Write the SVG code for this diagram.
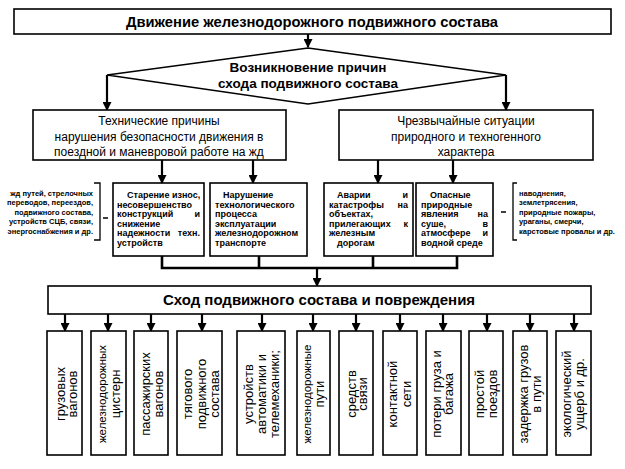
<svg xmlns="http://www.w3.org/2000/svg" width="625" height="469" viewBox="0 0 625 469">
<defs>
<marker id="ah" markerUnits="userSpaceOnUse" markerWidth="9" markerHeight="9" refX="8" refY="4.5" orient="auto"><path d="M0,0 L9,4.5 L0,9 z" fill="#000"/></marker>
<style>
.box{fill:#fff;stroke:#000;stroke-width:1.6}
.t{font-family:"Liberation Sans",Arial,sans-serif;fill:#000}
.b{font-weight:bold}
.c{text-anchor:middle}
.e{text-anchor:end}
.s{font-size:9px;font-weight:bold}
.n{font-size:7.5px;font-weight:bold}
.v{font-size:13px;text-anchor:middle}
.con{fill:none;stroke:#000;stroke-width:2.2}
</style>
</defs>
<rect width="625" height="469" fill="#fff"/>
<g id="connectors">
<path class="con" d="M308,34 V47" marker-end="url(#ah)"/>
<path class="con" d="M107,75 V110" marker-end="url(#ah)"/>
<path class="con" d="M506,75 V110" marker-end="url(#ah)"/>
<path class="con" d="M162,160 V183" marker-end="url(#ah)"/>
<path class="con" d="M253,160 V183" marker-end="url(#ah)"/>
<path class="con" d="M378,160 V183" marker-end="url(#ah)"/>
<path class="con" d="M453,160 V183" marker-end="url(#ah)"/>
<path class="con" style="stroke-width:2.6" d="M162,256 V268 H457 V256 M259,256 V268 M373,256 V268"/>
<path class="con" d="M317,268 V286" marker-end="url(#ah)"/>
<path class="con" d="M65,314 V331" marker-end="url(#ah)"/>
<path class="con" d="M108,314 V331" marker-end="url(#ah)"/>
<path class="con" d="M151,314 V331" marker-end="url(#ah)"/>
<path class="con" d="M202,314 V331" marker-end="url(#ah)"/>
<path class="con" d="M262,314 V331" marker-end="url(#ah)"/>
<path class="con" d="M313,314 V331" marker-end="url(#ah)"/>
<path class="con" d="M356,314 V331" marker-end="url(#ah)"/>
<path class="con" d="M400,314 V331" marker-end="url(#ah)"/>
<path class="con" d="M443,314 V331" marker-end="url(#ah)"/>
<path class="con" d="M487,314 V331" marker-end="url(#ah)"/>
<path class="con" d="M530,314 V331" marker-end="url(#ah)"/>
<path class="con" d="M574,314 V331" marker-end="url(#ah)"/>
</g>
<g id="title">
<rect class="box" x="14" y="9" width="597" height="25"/>
<text class="t b c" x="312" y="27" font-size="14" textLength="372" lengthAdjust="spacingAndGlyphs">Движение железнодорожного подвижного состава</text>
</g>
<g id="decision">
<polygon class="box" points="308,48 506,75 308,104 107,75"/>
<text class="t b c" x="308" y="72" font-size="13" textLength="157" lengthAdjust="spacingAndGlyphs">Возникновение причин</text>
<text class="t b c" x="308" y="88" font-size="13" textLength="180" lengthAdjust="spacingAndGlyphs">схода подвижного состава</text>
</g>
<g id="tech">
<rect class="box" x="33" y="110" width="253" height="50"/>
<text class="t c" font-size="12" x="159" y="125">Технические причины</text>
<text class="t c" font-size="12" x="159" y="141">нарушения безопасности движения в</text>
<text class="t c" font-size="12" x="159" y="156">поездной и маневровой работе на жд</text>
</g>
<g id="emergency">
<rect class="box" x="339" y="110" width="254" height="50"/>
<text class="t c" font-size="12" x="466" y="125">Чрезвычайные ситуации</text>
<text class="t c" font-size="12" x="466" y="141">природного и техногенного</text>
<text class="t c" font-size="12" x="466" y="156">характера</text>
</g>
<g id="tech-list">
<text class="t n e" x="93" y="195.5">жд путей, стрелочных</text>
<text class="t n e" x="93" y="205">переводов, переездов,</text>
<text class="t n e" x="93" y="214.5">подвижного состава,</text>
<text class="t n e" x="93" y="224">устройств СЦБ, связи,</text>
<text class="t n e" x="93" y="233.5">энергоснабжения и др.</text>
<path fill="none" stroke="#000" stroke-width="1.3" d="M94,183 H100 V240 H94 M103,218 H108"/>
</g>
<g id="aging">
<rect class="box" x="113" y="183" width="91" height="73"/>
<text class="t s" x="127" y="198">Старение износ,</text>
<text class="t s" x="117" y="207.5">несовершенство</text>
<text class="t s" x="117" y="217">конструкций</text><text class="t s e" x="200" y="217">и</text>
<text class="t s" x="117" y="226.5">снижение</text>
<text class="t s" x="117" y="236">надежности</text><text class="t s e" x="200" y="236">техн.</text>
<text class="t s" x="117" y="245.5">устройств</text>
</g>
<g id="process">
<rect class="box" x="210" y="183" width="97" height="73"/>
<text class="t s" x="223" y="198">Нарушение</text>
<text class="t s" x="215" y="207.5">технологического</text>
<text class="t s" x="215" y="217">процесса</text>
<text class="t s" x="215" y="226.5">эксплуатации</text>
<text class="t s" x="215" y="236">железнодорожном</text>
<text class="t s" x="215" y="245.5">транспорте</text>
</g>
<g id="accidents">
<rect class="box" x="324" y="183" width="89" height="73"/>
<text class="t s" x="337" y="198">Аварии</text><text class="t s e" x="408" y="198">и</text>
<text class="t s" x="329" y="207.5">катастрофы</text><text class="t s e" x="408" y="207.5">на</text>
<text class="t s" x="329" y="217">объектах,</text>
<text class="t s" x="329" y="226.5">прилегающих</text><text class="t s e" x="408" y="226.5">к</text>
<text class="t s" x="329" y="236">железным</text>
<text class="t s" x="337" y="245.5">дорогам</text>
</g>
<g id="natural">
<rect class="box" x="416" y="183" width="77" height="73"/>
<text class="t s" x="430" y="198">Опасные</text>
<text class="t s" x="421" y="207.5">природные</text>
<text class="t s" x="421" y="217">явления</text><text class="t s e" x="488" y="217">на</text>
<text class="t s" x="421" y="226.5">суше,</text><text class="t s e" x="488" y="226.5">в</text>
<text class="t s" x="421" y="236">атмосфере</text><text class="t s e" x="488" y="236">и</text>
<text class="t s" x="421" y="245.5">водной среде</text>
</g>
<g id="natural-list">
<path fill="none" stroke="#000" stroke-width="1.3" d="M501,212 H506 M517,183 H513 V240 H517"/>
<text class="t n" x="519" y="195.5">наводнения,</text>
<text class="t n" x="519" y="205">землетрясения,</text>
<text class="t n" x="519" y="214.5">природные пожары,</text>
<text class="t n" x="519" y="224">ураганы, смерчи,</text>
<text class="t n" x="519" y="233.5">карстовые провалы и др.</text>
</g>
<g id="derailment">
<rect class="box" x="48" y="286" width="543" height="28"/>
<text class="t b c" x="319" y="305" font-size="15">Сход подвижного состава и повреждения</text>
</g>
<g id="r1"><rect class="box" x="47" y="331" width="35" height="124"/>
<text class="t v" transform="translate(64,394) rotate(-90)"><tspan x="0" y="1">грузовых</tspan><tspan x="0" y="13">вагонов</tspan></text></g>
<g id="r2"><rect class="box" x="91" y="331" width="35" height="124"/>
<text class="t v" font-size="12" transform="translate(108,394) rotate(-90)"><tspan x="0" y="-2" font-size="11.5">железнодорожных</tspan><tspan x="0" y="12">цистерн</tspan></text></g>
<g id="r3"><rect class="box" x="134" y="331" width="34" height="124"/>
<text class="t v" transform="translate(151,394) rotate(-90)"><tspan x="0" y="-1">пассажирских</tspan><tspan x="0" y="12">вагонов</tspan></text></g>
<g id="r4"><rect class="box" x="177" y="331" width="45" height="124"/>
<text class="t v" transform="translate(199,394) rotate(-90)"><tspan x="0" y="-7">тягового</tspan><tspan x="0" y="7">подвижного</tspan><tspan x="0" y="20">состава</tspan></text></g>
<g id="r5"><rect class="box" x="237" y="331" width="48" height="124"/>
<text class="t v" transform="translate(261,394) rotate(-90)"><tspan x="0" y="-8">устройств</tspan><tspan x="0" y="5">автоматики и</tspan><tspan x="0" y="18">телемеханики;</tspan></text></g>
<g id="r6"><rect class="box" x="297" y="331" width="33" height="124"/>
<text class="t v" transform="translate(313,394) rotate(-90)"><tspan x="0" y="-2" font-size="11.5">железнодорожные</tspan><tspan x="0" y="11">пути</tspan></text></g>
<g id="r7"><rect class="box" x="339" y="331" width="34" height="124"/>
<text class="t v" transform="translate(356,394) rotate(-90)"><tspan x="0" y="0">средств</tspan><tspan x="0" y="11">связи</tspan></text></g>
<g id="r8"><rect class="box" x="383" y="331" width="34" height="124"/>
<text class="t v" transform="translate(400,394) rotate(-90)"><tspan x="0" y="-3">контактной</tspan><tspan x="0" y="11">сети</tspan></text></g>
<g id="r9"><rect class="box" x="426" y="331" width="35" height="124"/>
<text class="t v" transform="translate(443,394) rotate(-90)"><tspan x="0" y="-2">потери груза и</tspan><tspan x="0" y="10">багажа</tspan></text></g>
<g id="r10"><rect class="box" x="469" y="331" width="34" height="124"/>
<text class="t v" transform="translate(486,394) rotate(-90)"><tspan x="0" y="-2">простой</tspan><tspan x="0" y="11">поездов</tspan></text></g>
<g id="r11"><rect class="box" x="513" y="331" width="34" height="124"/>
<text class="t v" transform="translate(530,394) rotate(-90)"><tspan x="0" y="-2">задержка грузов</tspan><tspan x="0" y="11">в пути</tspan></text></g>
<g id="r12"><rect class="box" x="556" y="331" width="35" height="124"/>
<text class="t v" transform="translate(573,394) rotate(-90)"><tspan x="0" y="-2">экологический</tspan><tspan x="0" y="11">ущерб и др.</tspan></text></g>
</svg>
